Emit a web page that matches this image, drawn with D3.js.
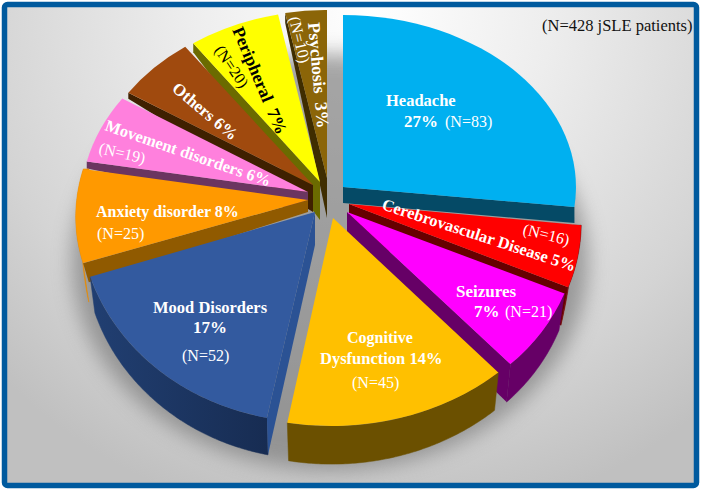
<!DOCTYPE html>
<html>
<head>
<meta charset="utf-8">
<script src="https://cdn.jsdelivr.net/npm/d3@7"></script>
<style>
	html, body { margin: 0; padding: 0; background: #fff; }
	svg { display: block; }
	text { font-family: "Liberation Serif", serif; }
</style>
</head>
<body>
<div id="chart"></div>
<script>
const categories = ["Headache", "Cerebrovascular Disease", "Seizures", "Cognitive Dysfunction", "Mood Disorders", "Anxiety disorder", "Movement disorders", "Others", "Peripheral", "Psychosis"]
const patients = [83, 16, 21, 45, 52, 25, 19, 18, 20, 10]
const topColors = ["#00b0f0", "#ff0000", "#ff00ff", "#ffc000", "#335a9f", "#ff9900", "#ff80dd", "#a04a0e", "#ffff00", "#8b6508"]
const cutColors = ["#054a66", "#660000", "#660066", "#6b5000", "#2b5294", "#905a00", "#6b3560", "#3f2000", "#6b6b00", "#3f2d00"]
const wallColors = ["#054a66", "#7a0000", "#660066", "#6b5000", "url(#moodWall)", "#e88b00", "#6b3560", "#3f2000", "#6b6b00", "#3f2d00"]

// every slice has its own little perspective: apex, 2x2 map of the unit circle, wall depths
const sliceLook = [
	{ ax: 343, ay: 187, a: 233, b: 0, c: 0, d: 172, cutApex: 16, cutEnd: 16, wall0: 0, wall1: 0, lean: 0 },
	{ ax: 349, ay: 204, a: 231, b: 24, c: -2, d: 199, cutApex: 30, cutEnd: 38, wall0: 0, wall1: 38, lean: 8 },
	{ ax: 347, ay: 212, a: 232, b: 18, c: -7, d: 205, cutApex: 36, cutEnd: 38, wall0: 37, wall1: 38, lean: 6 },
	{ ax: 333, ay: 218, a: 248, b: 7, c: -7, d: 208, cutApex: 0, cutEnd: 0, wall0: 38, wall1: 38, lean: 6 },
	{ ax: 315, ay: 212, a: 236, b: 2, c: -3, d: 210, cutApex: 33, cutEnd: 37, wall0: 37, wall1: 36, lean: 5 },
	{ ax: 308, ay: 200, a: 232, b: -11, c: -8, d: 188, cutApex: 12, cutEnd: 19, wall0: 39, wall1: 0, lean: 6 },
	{ ax: 308, ay: 192, a: 227, b: -4, c: -6, d: 176, cutApex: 20, cutEnd: 7, wall0: 0, wall1: 0, lean: 0 },
	{ ax: 313, ay: 185, a: 223, b: 0, c: -5, d: 172, cutApex: 27, cutEnd: 6, wall0: 0, wall1: 0, lean: 0 },
	{ ax: 320, ay: 182, a: 227, b: -4, c: -4, d: 172, cutApex: 38, cutEnd: 9, wall0: 0, wall1: 0, lean: 0 },
	{ ax: 327, ay: 178, a: 207, b: 0, c: 2, d: 168, cutApex: 40, cutEnd: 10, wall0: 0, wall1: 0, lean: 0 }
]
const drawOrder = [0, 1, 2, 3, 9, 8, 7, 6, 5, 4]

const labelTexts = ["(N=428 jSLE patients)", "Headache", "27%", "(N=83)", "Cerebrovascular Disease 5%", "(N=16)", "Seizures", "7%", "(N=21)", "Cognitive", "Dysfunction 14%", "(N=45)", "Mood Disorders", "17%", "(N=52)", "Anxiety disorder 8%", "(N=25)", "Movement disorders 6%", "(N=19)", "Others 6%", "Peripheral  7%", "(N=20)", "Psychosis  3%", "(N=10)"]
const labelLook = [
	{ x: 542, y: 31, r: 0, bold: 0, fill: "#111", size: 16.5 },
	{ x: 386, y: 106, r: 0, bold: 1, fill: "#fff", size: 16.5 },
	{ x: 404, y: 127, r: 0, bold: 1, fill: "#fff", size: 17 },
	{ x: 445, y: 127, r: 0, bold: 0, fill: "#fff", size: 16 },
	{ x: 381, y: 209, r: 18, bold: 1, fill: "#fff", size: 16.5 },
	{ x: 522, y: 234, r: 14, bold: 0, fill: "#fff", size: 16 },
	{ x: 456, y: 297, r: 0, bold: 1, fill: "#fff", size: 17 },
	{ x: 474, y: 317, r: 0, bold: 1, fill: "#fff", size: 17 },
	{ x: 505, y: 317, r: 0, bold: 0, fill: "#fff", size: 16 },
	{ x: 347, y: 343, r: 0, bold: 1, fill: "#fff", size: 16 },
	{ x: 320, y: 364, r: 0, bold: 1, fill: "#fff", size: 16.5 },
	{ x: 352, y: 388, r: 0, bold: 0, fill: "#fff", size: 16 },
	{ x: 153, y: 313, r: 0, bold: 1, fill: "#fff", size: 16.5 },
	{ x: 193, y: 333, r: 0, bold: 1, fill: "#fff", size: 17 },
	{ x: 182, y: 361, r: 0, bold: 0, fill: "#fff", size: 16 },
	{ x: 96, y: 217, r: 0, bold: 1, fill: "#fff", size: 16 },
	{ x: 97, y: 239, r: 0, bold: 0, fill: "#fff", size: 16 },
	{ x: 104, y: 130, r: 19, bold: 1, fill: "#fff", size: 16.5 },
	{ x: 98, y: 153, r: 13, bold: 0, fill: "#fff", size: 16 },
	{ x: 171, y: 90, r: 40, bold: 1, fill: "#fff", size: 17 },
	{ x: 232, y: 30, r: 67, bold: 1, fill: "#000", size: 17.5 },
	{ x: 214, y: 50, r: 56, bold: 0, fill: "#000", size: 16 },
	{ x: 308, y: 23, r: 85, bold: 1, fill: "#fff", size: 17.5 },
	{ x: 289, y: 18, r: 77, bold: 0, fill: "#fff", size: 16 }
]

const w = 701
const h = 490

const svg = d3.select("#chart").append("svg").attr("width", w).attr("height", h)
const defs = svg.append("defs")

const bg = defs.append("radialGradient").attr("id", "paper").attr("gradientUnits", "userSpaceOnUse")
	.attr("cx", 370).attr("cy", 10).attr("r", 520)
bg.append("stop").attr("offset", 0).attr("stop-color", "#ffffff")
bg.append("stop").attr("offset", 0.35).attr("stop-color", "#ededed")
bg.append("stop").attr("offset", 0.75).attr("stop-color", "#d4d4d4")
bg.append("stop").attr("offset", 1).attr("stop-color", "#c0c0c0")

const moodWall = defs.append("linearGradient").attr("id", "moodWall")
moodWall.append("stop").attr("offset", 0).attr("stop-color", "#213f72")
moodWall.append("stop").attr("offset", 1).attr("stop-color", "#172c52")

defs.append("filter").attr("id", "blur").attr("x", "-20%").attr("y", "-20%").attr("width", "140%").attr("height", "140%")
	.append("feGaussianBlur").attr("stdDeviation", 10)

svg.append("rect").attr("x", 4.5).attr("y", 4.5).attr("width", w - 9).attr("height", h - 9)
	.attr("rx", 3).attr("fill", "url(#paper)")

// soft shadow under the pie
svg.append("ellipse").attr("cx", 330).attr("cy", 262).attr("rx", 258).attr("ry", 208)
	.attr("fill", "#6e6e6e").attr("opacity", 0.6).attr("filter", "url(#blur)")

const pie = d3.pie().sort(null).value(d => d)
const arcs = pie(patients)
const unitArc = d3.arc().innerRadius(0).outerRadius(1)
const line = d3.line()

function project(s, angle) {
	const u = Math.sin(angle)
	const v = -Math.cos(angle)
	return [s.ax + s.a * u + s.b * v, s.ay + s.c * u + s.d * v, u]
}

drawOrder.forEach(i => {
	const s = sliceLook[i]
	const arc = arcs[i]
	const g = svg.append("g").attr("class", "slice")

	// outer wall
	if (s.wall0 > 0 || s.wall1 > 0) {
		const depth = d3.scaleLinear().domain([arc.startAngle, arc.endAngle]).range([s.wall0, s.wall1])
		const angles = d3.range(arc.startAngle, arc.endAngle, 0.01).concat(arc.endAngle)
		const upper = angles.map(t => project(s, t).slice(0, 2))
		const lower = angles.map(t => {
			const p = project(s, t)
			return [p[0] - s.lean * p[2], p[1] + depth(t)]
		})
		g.append("path").attr("d", line(upper.concat(lower.reverse())) + "Z")
			.attr("fill", wallColors[i]).attr("stroke", wallColors[i]).attr("stroke-width", 0.5)
	}

	// the cut side that faces us
	if (s.cutEnd > 0) {
		const cutAngle = (arc.startAngle + arc.endAngle) / 2 < Math.PI ? arc.endAngle : arc.startAngle
		const c = project(s, cutAngle)
		g.append("path")
			.attr("d", line([[s.ax, s.ay], [c[0], c[1]], [c[0] - s.lean * c[2], c[1] + s.cutEnd], [s.ax, s.ay + s.cutApex]]) + "Z")
			.attr("fill", cutColors[i])
	}

	g.append("path")
		.attr("d", unitArc(arc))
		.attr("transform", `matrix(${s.a},${s.c},${s.b},${s.d},${s.ax},${s.ay})`)
		.attr("fill", topColors[i])
})

svg.selectAll("text.label")
	.data(labelTexts)
	.enter()
	.append("text")
	.attr("class", "label")
	.attr("transform", (d, i) => `translate(${labelLook[i].x},${labelLook[i].y}) rotate(${labelLook[i].r})`)
	.attr("font-size", (d, i) => labelLook[i].size)
	.attr("font-weight", (d, i) => (labelLook[i].bold ? "bold" : "normal"))
	.attr("fill", (d, i) => labelLook[i].fill)
	.style("white-space", "pre")
	.text(d => d)

// frame
svg.append("rect").attr("x", 4.5).attr("y", 4.5).attr("width", w - 9).attr("height", h - 9)
	.attr("rx", 3).attr("fill", "none").attr("stroke", "#005a9e").attr("stroke-width", 5.5)
</script>
</body>
</html>
